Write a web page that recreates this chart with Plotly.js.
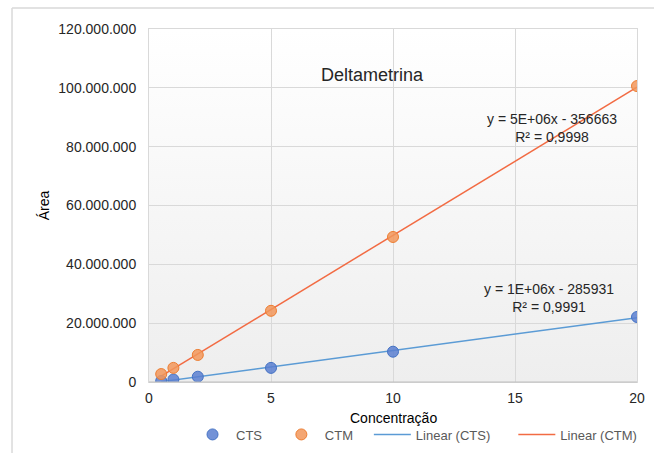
<!DOCTYPE html>
<html>
<head>
<meta charset="utf-8">
<script src="https://cdn.plot.ly/plotly-3.0.1.min.js"></script>
<style>html,body{margin:0;padding:0;background:#fff;}#chart{width:654px;height:453px;}</style>
</head>
<body>
<div id="chart"></div>
<script>
// Data
var concentracao = [0.5, 1, 2, 5, 10, 20];
var areaCTS = [350000, 850000, 1800000, 4800000, 10300000, 22100000];
var areaCTM = [2700000, 4800000, 9200000, 24200000, 49300000, 100600000];
var seriesNames = ["CTS", "CTM", "Linear (CTS)", "Linear (CTM)"];
var eqCTS = "y = 1E+06x - 285931<br>R² = 0,9991";
var eqCTM = "y = 5E+06x - 356663<br>R² = 0,9998";
var chartTitle = "Deltametrina";
var xTitle = "Concentração";
var yTitle = "Área";

function linfit(xs, ys) {
  var n = xs.length, sx = 0, sy = 0, sxx = 0, sxy = 0;
  for (var i = 0; i < n; i++) { sx += xs[i]; sy += ys[i]; sxx += xs[i]*xs[i]; sxy += xs[i]*ys[i]; }
  var m = (n*sxy - sx*sy) / (n*sxx - sx*sx);
  var b = (sy - m*sx) / n;
  return {m: m, b: b};
}
function trend(xs, ys) {
  var f = linfit(xs, ys);
  var x0 = Math.min.apply(null, xs), x1 = Math.max.apply(null, xs);
  return {x: [x0, x1], y: [f.m*x0 + f.b, f.m*x1 + f.b]};
}
var tCTS = trend(concentracao, areaCTS);
var tCTM = trend(concentracao, areaCTM);

var FONT = "Arial, 'Liberation Sans', sans-serif";
var PAD = "\u00a0\u00a0\u00a0";

var traces = [
  {x: tCTS.x, y: tCTS.y, mode: "lines", name: seriesNames[2] + PAD + "\u00a0\u00a0", legendrank: 3,
   line: {color: "#5b9bd5", width: 1.5}, hoverinfo: "skip"},
  {x: tCTM.x, y: tCTM.y, mode: "lines", name: seriesNames[3], legendrank: 4,
   line: {color: "#f26b43", width: 1.5}, hoverinfo: "skip"},
  {x: concentracao, y: areaCTS, mode: "markers", name: seriesNames[0] + PAD, legendrank: 1,
   marker: {size: 11, color: "rgba(91,127,208,0.85)", line: {color: "#4472c4", width: 1}}},
  {x: concentracao, y: areaCTM, mode: "markers", name: seriesNames[1] + PAD, legendrank: 2,
   marker: {size: 11, color: "rgba(242,150,90,0.85)", line: {color: "#ed7d31", width: 1}}}
];

var gradSvg = '<svg xmlns="http://www.w3.org/2000/svg" width="10" height="100" preserveAspectRatio="none">' +
  '<defs><linearGradient id="g" x1="0" y1="0" x2="0" y2="1">' +
  '<stop offset="0" stop-color="#ffffff"/><stop offset="1" stop-color="#eeeeee"/></linearGradient></defs>' +
  '<rect width="10" height="100" fill="url(#g)"/></svg>';
var gradUri = "data:image/svg+xml;charset=utf-8," + encodeURIComponent(gradSvg);

var layout = {
  width: 654, height: 453,
  margin: {l: 149, r: 17, t: 29, b: 71},
  paper_bgcolor: "#ffffff",
  plot_bgcolor: "rgba(0,0,0,0)",
  separators: ",.",
  font: {family: FONT, size: 14, color: "#262626"},
  showlegend: true,
  legend: {orientation: "h", x: 0.082, xanchor: "left", xref: "paper",
           y: 0.074, yanchor: "top", yref: "container",
           itemwidth: 37,
           font: {family: FONT, size: 13, color: "#595959"}, traceorder: "normal",
           bgcolor: "rgba(0,0,0,0)"},
  xaxis: {range: [0, 20], dtick: 5, tick0: 0, showgrid: true, gridcolor: "#d9d9d9", gridwidth: 1,
          zeroline: false, showline: true, linecolor: "#d9d9d9", mirror: true, ticks: "",
          ticklabelstandoff: 3,
          tickfont: {family: FONT, size: 14, color: "#262626"},
          automargin: false, fixedrange: true},
  yaxis: {range: [0, 120000000], dtick: 20000000, tick0: 0, tickformat: ",d", showgrid: true,
          gridcolor: "#d9d9d9", gridwidth: 1, zeroline: false, showline: true, linecolor: "#d9d9d9",
          mirror: true, ticks: "", ticklabelstandoff: 9,
          tickfont: {family: FONT, size: 14, color: "#262626"},
          title: {text: yTitle, standoff: 5, font: {family: FONT, size: 14, color: "#000000"}},
          automargin: false, fixedrange: true},
  images: [{source: gradUri, xref: "paper", yref: "paper", x: 0, y: 1, sizex: 1, sizey: 1,
            sizing: "stretch", xanchor: "left", yanchor: "top", layer: "below"}],
  shapes: [
    {type: "line", xref: "paper", yref: "paper", x0: -0.2807, x1: 1.05, y0: 1.0595, y1: 1.0595,
     line: {color: "#d9d9d9", width: 1.5}},
    {type: "line", xref: "paper", yref: "paper", x0: -0.2807, x1: -0.2807, y0: 1.0595, y1: -0.25,
     line: {color: "#d9d9d9", width: 1.5}},
    {type: "line", xref: "paper", yref: "paper", x0: 0, x1: 1, y0: 0, y1: 0,
     line: {color: "#bfbfbf", width: 1}}
  ],
  annotations: [
    {text: xTitle, x: 0.5, y: -0.102, xref: "paper", yref: "paper", xanchor: "center",
     yanchor: "middle", showarrow: false, font: {family: FONT, size: 14, color: "#000000"}},
    {text: chartTitle, x: 9.18, y: 104400000, xref: "x", yref: "y", showarrow: false,
     font: {family: FONT, size: 18, color: "#262626"}},
    {text: eqCTM, x: 16.52, y: 86500000, xref: "x", yref: "y", showarrow: false, align: "center",
     font: {family: FONT, size: 14, color: "#262626"}},
    {text: eqCTS, x: 16.39, y: 28400000, xref: "x", yref: "y", showarrow: false, align: "center",
     font: {family: FONT, size: 14, color: "#262626"}}
  ]
};

Plotly.newPlot("chart", traces, layout, {displayModeBar: false, staticPlot: true});
</script>
</body>
</html>
